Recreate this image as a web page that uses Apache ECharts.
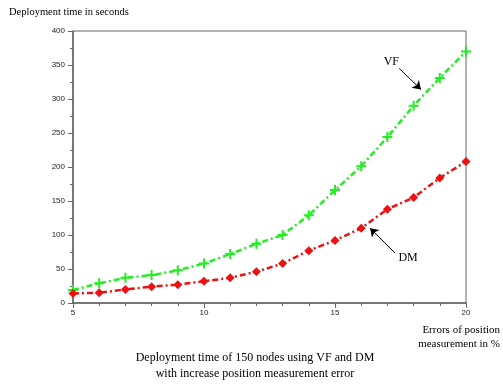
<!DOCTYPE html>
<html>
<head>
<meta charset="utf-8">
<style>
    html, body { margin: 0; padding: 0; background: #fff; }
    #chart { width: 503px; height: 389px; }
</style>
</head>
<body>
<div id="chart"></div>
<script src="https://cdn.jsdelivr.net/npm/echarts@6/dist/echarts.min.js"></script>
<script>
    // error of position measurement (%)
    var errors = [5, 6, 7, 8, 9, 10, 11, 12, 13, 14, 15, 16, 17, 18, 19, 20];
    // deployment time in seconds
    var vfTime = [19, 29, 37, 41, 48, 58, 72, 87, 100, 129, 166, 201, 244, 290, 331, 370];
    var dmTime = [14, 15, 20, 24, 27, 32, 37, 46, 58, 77, 92, 110, 138, 155, 184, 208];
    var yTicks = [0, 50, 100, 150, 200, 250, 300, 350, 400];

    var serif = '"Liberation Serif", "DejaVu Serif", serif';
    var sans = '"Liberation Sans", Arial, sans-serif';

    function pairs(xs, ys) {
        var out = [];
        for (var i = 0; i < xs.length; i++) out.push([xs[i], ys[i]]);
        return out;
    }

    var chart = echarts.init(document.getElementById('chart'));
    chart.setOption({
        animation: false,
        title: [
            {   // caption under the chart
                text: 'Deployment time of 150 nodes using VF and DM\nwith increase position measurement error',
                left: 250, top: 345, textAlign: 'center',
                textStyle: { fontFamily: serif, fontSize: 12, fontWeight: 'normal', color: '#000', lineHeight: 16 }
            },
            {   // y axis title
                text: 'Deployment time in seconds',
                left: 4, top: 2,
                textStyle: { fontFamily: serif, fontSize: 10.5, fontWeight: 'normal', color: '#000' }
            },
            {   // x axis title
                text: 'Errors of position\nmeasurement in %',
                left: 495, top: 318, textAlign: 'right',
                textStyle: { fontFamily: serif, fontSize: 11, fontWeight: 'normal', color: '#000', lineHeight: 14, align: 'right' }
            }
        ],
        grid: {
            left: 73, right: 37, top: 31, bottom: 86,
            containLabel: false, outerBoundsMode: 'none',
            show: true, borderColor: '#666', borderWidth: 1
        },
        xAxis: {
            type: 'value', min: 5, max: 20, interval: 5,
            axisLine: { lineStyle: { color: '#666', width: 1.5 } },
            axisTick: { length: 5, lineStyle: { color: '#666' } },
            minorTick: { show: true, splitNumber: 5, length: 3, lineStyle: { color: '#666' } },
            axisLabel: { fontFamily: sans, fontSize: 8, color: '#222', margin: 6 },
            splitLine: { show: false }
        },
        yAxis: {
            type: 'value', min: yTicks[0], max: yTicks[yTicks.length - 1], interval: 50,
            axisLine: { show: true, lineStyle: { color: '#666', width: 1.5 } },
            axisTick: { show: true, length: 5, lineStyle: { color: '#666' } },
            minorTick: { show: true, splitNumber: 2, length: 3, lineStyle: { color: '#666' } },
            axisLabel: { fontFamily: sans, fontSize: 8, color: '#222', margin: 8 },
            splitLine: { show: false }
        },
        series: [
            {
                name: 'VF', type: 'line',
                data: pairs(errors, vfTime),
                symbol: 'path://M4,0h2v4h4v2h-4v4h-2v-4h-4v-2h4z',
                symbolSize: 10,
                itemStyle: { color: '#22ee22' },
                lineStyle: { color: '#22ee22', width: 2.5, type: [6, 3, 2, 3] },
                markLine: {
                    silent: true, symbol: ['none', 'arrow'], symbolSize: 8,
                    lineStyle: { color: '#000', width: 1, type: 'solid' },
                    label: { show: false },
                    data: [[{ coord: [17.45, 345] }, { coord: [18.28, 314] }]]
                },
                markPoint: {
                    symbol: 'circle', symbolSize: 1, itemStyle: { color: 'transparent' },
                    label: { show: true, formatter: 'VF', fontFamily: serif, fontSize: 12, color: '#000', position: 'inside' },
                    data: [{ coord: [17.15, 354] }]
                }
            },
            {
                name: 'DM', type: 'line',
                data: pairs(errors, dmTime),
                symbol: 'diamond',
                symbolSize: 9,
                itemStyle: { color: '#ee1111' },
                lineStyle: { color: '#ee1111', width: 2.5, type: [6, 3, 2, 3] },
                markLine: {
                    silent: true, symbol: ['none', 'arrow'], symbolSize: 8,
                    lineStyle: { color: '#000', width: 1, type: 'solid' },
                    label: { show: false },
                    data: [[{ coord: [17.29, 73.5] }, { coord: [16.34, 110] }]]
                },
                markPoint: {
                    symbol: 'circle', symbolSize: 1, itemStyle: { color: 'transparent' },
                    label: { show: true, formatter: 'DM', fontFamily: serif, fontSize: 12, color: '#000', position: 'inside' },
                    data: [{ coord: [17.79, 66] }]
                }
            }
        ]
    });
</script>
</body>
</html>
